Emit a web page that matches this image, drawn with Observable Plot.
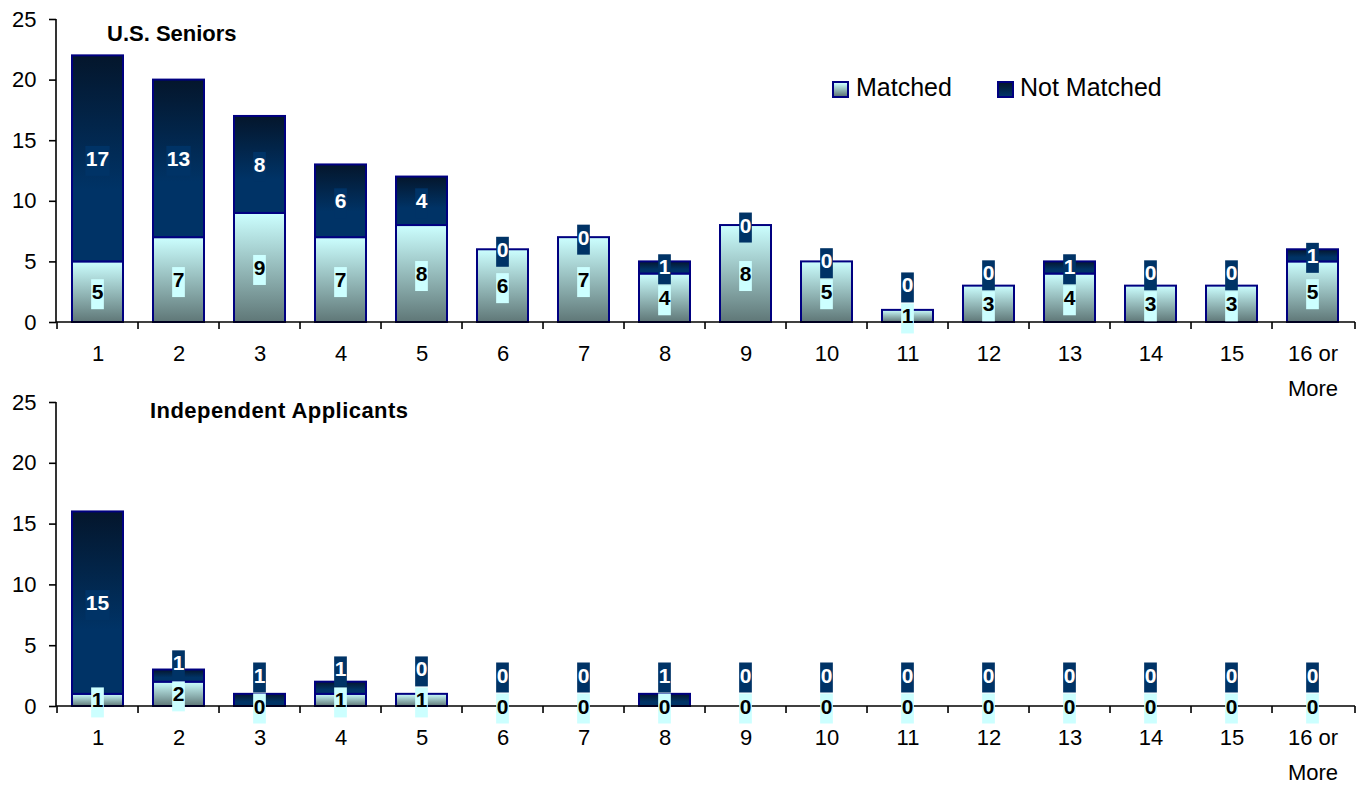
<!DOCTYPE html>
<html><head><meta charset="utf-8">
<script src="https://cdn.jsdelivr.net/npm/d3@7"></script>
<script src="https://cdn.jsdelivr.net/npm/@observablehq/plot@0.6"></script>
<style>
body{margin:0;background:#fff;font-family:"Liberation Sans",Arial,sans-serif;}
#wrap{position:relative;width:1359px;height:785px;overflow:hidden;background:#fff}
.panel{position:absolute;left:0}
.title{position:absolute;font-weight:bold;font-size:22px;line-height:22px;color:#000;white-space:nowrap}
.leg{position:absolute;font-size:25px;line-height:25px;color:#000;white-space:nowrap}
.sw{position:absolute;width:13px;height:13px;border:2px solid #000080;box-sizing:content-box}
</style></head>
<body>
<div id="wrap">
  <div id="p1" class="panel" style="top:0"></div>
  <div id="p2" class="panel" style="top:384px"></div>
  <div id="t1" class="title" style="left:107px;top:23px"></div>
  <div id="t2" class="title" style="left:150px;top:400px;letter-spacing:0.45px"></div>
  <div class="sw" style="left:832px;top:81px;background:linear-gradient(#ccffff,#5f7777)"></div>
  <div id="l1" class="leg" style="left:856px;top:75px"></div>
  <div class="sw" style="left:997px;top:81px;background:linear-gradient(#04162c,#003366)"></div>
  <div id="l2" class="leg" style="left:1020px;top:75px"></div>
</div>
<script>
const categories = ["1","2","3","4","5","6","7","8","9","10","11","12","13","14","15","16 or More"];
const yTicks = [0, 5, 10, 15, 20, 25];
const seriesNames = ["Matched", "Not Matched"];
const panelTitles = ["U.S. Seniors", "Independent Applicants"];
const seniorsMatched    = [5, 7, 9, 7, 8, 6, 7, 4, 8, 5, 1, 3, 4, 3, 3, 5];
const seniorsNotMatched = [17, 13, 8, 6, 4, 0, 0, 1, 0, 0, 0, 0, 1, 0, 0, 1];
const independentMatched    = [1, 2, 0, 1, 1, 0, 0, 0, 0, 0, 0, 0, 0, 0, 0, 0];
const independentNotMatched = [15, 1, 1, 1, 0, 0, 0, 1, 0, 0, 0, 0, 0, 0, 0, 0];

const FONT = "'Liberation Sans', Arial, sans-serif";

document.getElementById("t1").textContent = panelTitles[0];
document.getElementById("t2").textContent = panelTitles[1];
document.getElementById("l1").textContent = seriesNames[0];
document.getElementById("l2").textContent = seriesNames[1];

function gradientDefs(id) {
  return () => {
    const defs = d3.create("svg:defs");
    const gm = defs.append("linearGradient").attr("id", id + "-m").attr("x1", 0).attr("y1", 0).attr("x2", 0).attr("y2", 1);
    gm.append("stop").attr("offset", "0%").attr("stop-color", "#ccffff");
    gm.append("stop").attr("offset", "100%").attr("stop-color", "#5f7777");
    const gn = defs.append("linearGradient").attr("id", id + "-n").attr("x1", 0).attr("y1", 0).attr("x2", 0).attr("y2", 1);
    gn.append("stop").attr("offset", "0%").attr("stop-color", "#04162c");
    gn.append("stop").attr("offset", "65%").attr("stop-color", "#003366");
    gn.append("stop").attr("offset", "100%").attr("stop-color", "#003366");
    return defs.node();
  };
}

function axisLines() {
  return (index, scales) => {
    const x = scales.x, y = scales.y;
    const g = d3.create("svg:g").attr("stroke", "#000").attr("stroke-width", 1.6).attr("fill", "none");
    const [r0, r1] = x.range();
    g.append("line").attr("x1", r0).attr("x2", r0).attr("y1", y(yTicks[yTicks.length - 1])).attr("y2", y(0));
    g.append("line").attr("x1", r0).attr("x2", r1).attr("y1", y(0)).attr("y2", y(0));
    const half = x.step() * x.paddingInner() / 2;
    const bounds = categories.map(c => x(c) - half).concat([r1]);
    for (const b of bounds) {
      g.append("line").attr("x1", b).attr("x2", b).attr("y1", y(0)).attr("y2", y(0) + 7);
    }
    return g.node();
  };
}

function dataLabels(matched, notMatched) {
  return (index, scales) => {
    const x = scales.x, y = scales.y;
    const bw = x.bandwidth();
    const g = d3.create("svg:g").attr("font-family", FONT).attr("font-size", 21).attr("font-weight", "bold").attr("text-anchor", "middle");
    function label(cx, cy, v, bg, fg) {
      const s = String(v);
      const w = s.length * 11.7 + 1;
      g.append("rect").attr("x", cx - w / 2).attr("y", cy - 12.5).attr("width", w).attr("height", 30).attr("fill", bg);
      g.append("text").attr("x", cx).attr("y", cy + 7.5).attr("fill", fg).text(s);
    }
    categories.forEach((c, i) => {
      const cx = x(c) + bw / 2;
      const m = matched[i], n = notMatched[i];
      const ym = y(m / 2);
      const yn = Math.min(y(m + n / 2), ym - 31);
      label(cx, ym, m, "#ccffff", "#000");
      label(cx, yn, n, "#003366", "#fff");
    });
    return g.node();
  };
}

function panel(matched, notMatched, id, opts) {
  const rows = categories.map((c, i) => ({cat: c, m: matched[i], n: notMatched[i]}));
  return Plot.plot({
    width: 1359,
    height: opts.height,
    marginLeft: 56,
    marginRight: 4,
    marginTop: opts.marginTop,
    marginBottom: opts.marginBottom,
    style: {fontFamily: FONT, fontSize: "22px", color: "#000", background: "none", overflow: "visible"},
    x: {domain: categories, paddingInner: 0.37, paddingOuter: 0.185, label: null},
    y: {domain: [0, 25], label: null},
    marks: [
      gradientDefs(id),
      Plot.barY(rows, {x: "cat", y1: d => 0, y2: "m", fill: `url(#${id}-m)`, stroke: "#000080", strokeWidth: 2}),
      Plot.barY(rows, {x: "cat", y1: "m", y2: d => d.m + d.n, fill: `url(#${id}-n)`, stroke: "#000080", strokeWidth: 2}),
      Plot.axisY({ticks: yTicks, tickSize: 7, tickPadding: 13, fontSize: 22, label: null, strokeWidth: 1.6}),
      Plot.axisX({tickSize: 0, tickPadding: 14, fontSize: 22, lineHeight: 1.58, label: null, tickFormat: d => d.replace(" or ", " or\n")}),
      axisLines(),
      dataLabels(matched, notMatched)
    ]
  });
}

document.getElementById("p1").appendChild(panel(seniorsMatched, seniorsNotMatched, "gs", {height: 400, marginTop: 19, marginBottom: 78}));
document.getElementById("p2").appendChild(panel(independentMatched, independentNotMatched, "gi", {height: 401, marginTop: 18, marginBottom: 79}));
</script>
</body></html>
